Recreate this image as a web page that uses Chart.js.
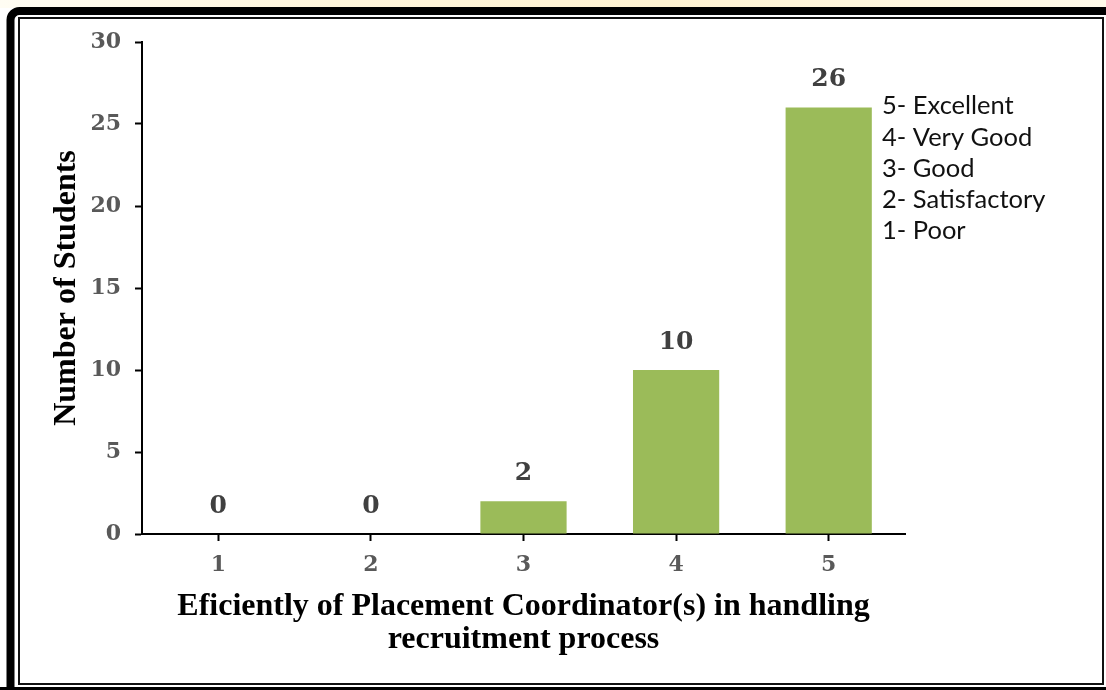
<!DOCTYPE html>
<html>
<head>
<meta charset="utf-8">
<script src="https://cdn.jsdelivr.net/npm/chart.js@4/dist/chart.umd.min.js"></script>
<style>
  html, body { margin: 0; padding: 0; background: #ffffff; }
  #wrap { width: 1106px; height: 690px; position: relative; }
  canvas { display: block; }
</style>
</head>
<body>
<div id="wrap"><canvas id="chart" width="1106" height="690"></canvas></div>
<script>
// Ratings and how many students gave each one
const categories = ['1', '2', '3', '4', '5'];
const studentCounts = [0, 0, 2, 10, 26];
const yTickValues = [0, 5, 10, 15, 20, 25, 30];
const ratingKey = ['5- Excellent', '4- Very Good', '3- Good', '2- Satisfactory', '1- Poor'];
const xTitleLines = ['Eficiently of Placement Coordinator(s) in handling', 'recruitment process'];
const yTitle = 'Number of Students';

const BAR_COLOR = '#9BBB59';
const TICK_FONT = { family: 'DejaVu Serif', size: 22, weight: 'bold' };

// Page background and double frame around the figure
const framePlugin = {
  id: 'frame',
  beforeDraw(chart) {
    const ctx = chart.ctx;
    const W = chart.width, H = chart.height;
    ctx.save();
    ctx.fillStyle = '#ffffff';
    ctx.fillRect(0, 0, W, H);
    // pale strip above the frame
    const g = ctx.createLinearGradient(0, 0, W, 0);
    g.addColorStop(0, '#fffdf3');
    g.addColorStop(0.3, '#fff6dc');
    g.addColorStop(0.6, '#fff3d2');
    g.addColorStop(1, '#fffaea');
    ctx.fillStyle = g;
    ctx.fillRect(0, 0, W, 8);
    // thick outer border (left, top, bottom)
    ctx.strokeStyle = '#000000';
    ctx.lineWidth = 8;
    ctx.beginPath();
    ctx.moveTo(10.5, H + 10);
    ctx.lineTo(10.5, 20);
    ctx.arcTo(10.5, 11, 20, 11, 9);
    ctx.lineTo(W + 10, 11);
    ctx.stroke();
    ctx.lineWidth = 3;
    ctx.beginPath();
    ctx.moveTo(0, H - 1.5);
    ctx.lineTo(W, H - 1.5);
    ctx.stroke();
    // thin inner border
    ctx.lineWidth = 2;
    ctx.strokeStyle = '#111111';
    ctx.strokeRect(19, 18, 1084, 666);
    ctx.restore();
  }
};

// Axis titles, rating key and value labels above the bars
const annotatePlugin = {
  id: 'annotate',
  afterDraw(chart) {
    const ctx = chart.ctx;
    const area = chart.chartArea;
    ctx.save();

    // value labels
    const meta = chart.getDatasetMeta(0);
    ctx.font = 'bold 25px "DejaVu Serif"';
    ctx.fillStyle = '#404040';
    ctx.textAlign = 'center';
    ctx.textBaseline = 'middle';
    meta.data.forEach((bar, i) => {
      ctx.fillText(String(studentCounts[i]), bar.x, bar.y - 28);
    });

    // x-axis title
    const cx = (area.left + area.right) / 2;
    ctx.font = 'bold 32px "Liberation Serif"';
    ctx.fillStyle = '#000000';
    xTitleLines.forEach((line, i) => {
      ctx.fillText(line, cx, 607 + i * 33);
    });

    // y-axis title
    ctx.save();
    ctx.translate(67, (area.top + area.bottom) / 2);
    ctx.rotate(-Math.PI / 2);
    ctx.fillText(yTitle, 0, 0);
    ctx.restore();

    // rating key
    ctx.font = '25.5px Lato';
    ctx.fillStyle = '#111111';
    ctx.textAlign = 'left';
    ratingKey.forEach((line, i) => {
      ctx.fillText(line, area.right - 23, 106 + i * 31.3);
    });

    ctx.restore();
  }
};

new Chart(document.getElementById('chart'), {
  type: 'bar',
  data: {
    labels: categories,
    datasets: [{
      data: studentCounts,
      backgroundColor: BAR_COLOR,
      borderWidth: 0,
      categoryPercentage: 0.565,
      barPercentage: 1.0
    }]
  },
  options: {
    responsive: false,
    animation: false,
    devicePixelRatio: 1,
    layout: { padding: { left: 20, right: 201, top: 42, bottom: 0 } },
    plugins: {
      legend: { display: false },
      tooltip: { enabled: false }
    },
    scales: {
      x: {
        grid: {
          display: true,
          offset: false,
          drawOnChartArea: false,
          drawTicks: true,
          tickLength: 7,
          tickWidth: 2,
          color: '#000000'
        },
        border: { display: true, color: '#000000', width: 2 },
        ticks: { font: TICK_FONT, color: '#595959', padding: 11 },
        afterFit(scale) { scale.height = 690 - 534; }
      },
      y: {
        min: 0,
        max: 30,
        afterBuildTicks(scale) { scale.ticks = yTickValues.map(v => ({ value: v })); },
        grid: {
          display: true,
          drawOnChartArea: false,
          drawTicks: true,
          tickLength: 7,
          tickWidth: 2,
          color: '#000000'
        },
        border: { display: true, color: '#000000', width: 2 },
        ticks: { font: TICK_FONT, color: '#595959', padding: 14 },
        afterFit(scale) { scale.width = 142 - 20; }
      }
    }
  },
  plugins: [framePlugin, annotatePlugin]
});
</script>
</body>
</html>
